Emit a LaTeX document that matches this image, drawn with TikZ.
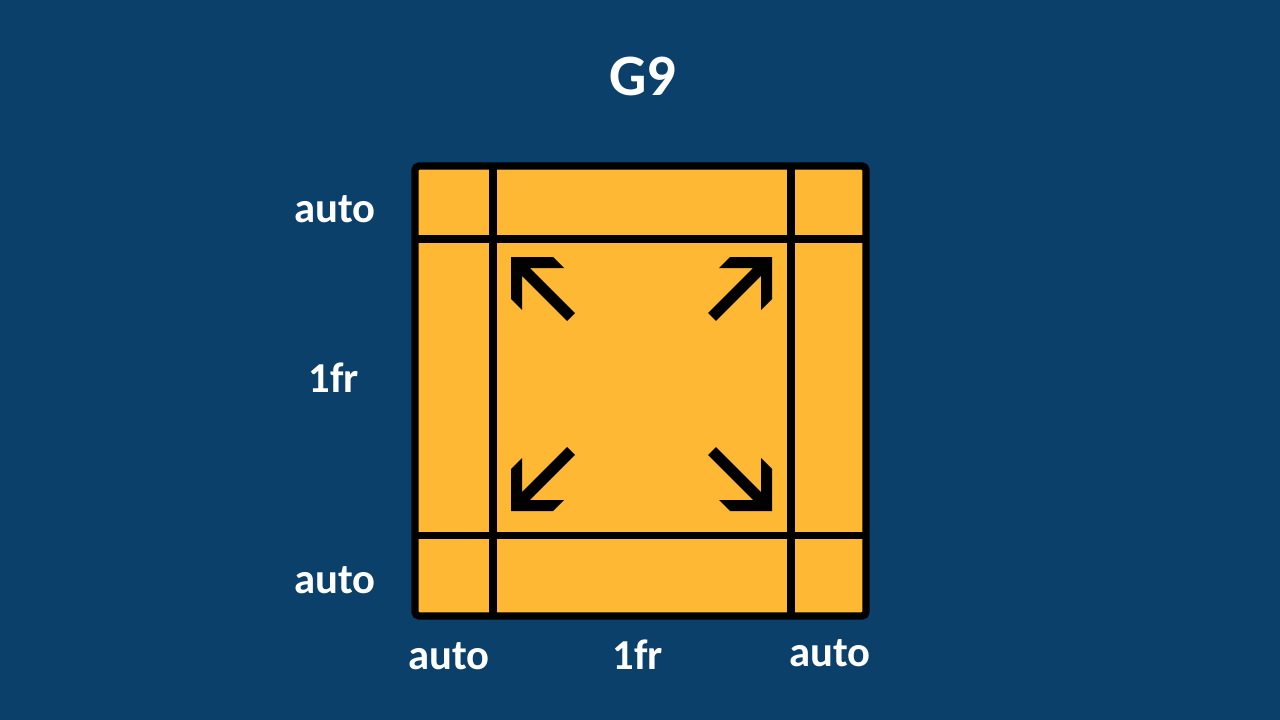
\documentclass[tikz,border=0pt]{standalone}
\usepackage{fontspec}
\setmainfont{Carlito}
\definecolor{bgblue}{RGB}{11,64,107}
\definecolor{cellyellow}{RGB}{255,184,51}

% one corner arrow, drawn pointing up-left, corner at (#1,#2)
\newcommand{\cornerarrow}[3]{%
  \fill[black,shift={(#1,#2)},#3] (0,0) -- (42,0) -- (53,11) -- (18.8,11)
    -- (63.9,56.1) -- (56.1,63.9) -- (11,18.8) -- (11,53) -- (0,42) -- cycle;}

\begin{document}
\begin{tikzpicture}[x=0.75pt,y=-0.75pt,
  lbl/.style={text=white,anchor=base,inner sep=0pt,font=\bfseries\fontsize{32}{38}\selectfont},
  gridline/.style={line width=5.4pt,black}]

\fill[bgblue] (0,0) rectangle (1280,720);

% Title
\node[lbl,font=\bfseries\fontsize{44}{52}\selectfont] (title) at (643,96) {G9};

% Grid lines
\def\xa{415} \def\xb{493} \def\xc{791} \def\xd{866}
\def\ya{166} \def\yb{239} \def\yc{535.5} \def\yd{616}

\fill[cellyellow,rounded corners=3pt] (\xa,\ya) rectangle (\xd,\yd);
\foreach \x in {\xb,\xc}
  \draw[gridline] (\x,\ya) -- (\x,\yd);
\foreach \y in {\yb,\yc}
  \draw[gridline] (\xa,\y) -- (\xd,\y);
\draw[gridline,rounded corners=3pt] (\xa,\ya) rectangle (\xd,\yd);

% Arrows in the 1fr cell
\cornerarrow{511}{257}{}
\cornerarrow{772}{257}{xscale=-1}
\cornerarrow{511}{511}{yscale=-1}
\cornerarrow{772}{511}{xscale=-1,yscale=-1}

% Track sizes
\foreach \name/\txt/\px/\py in {rowA/auto/335/223, rowB/1fr/334/392,
    rowC/auto/335/593, colA/auto/449/669, colB/1fr/638/669, colC/auto/830/666}
  \node[lbl] (\name) at (\px,\py) {\txt};

\end{tikzpicture}
\end{document}
